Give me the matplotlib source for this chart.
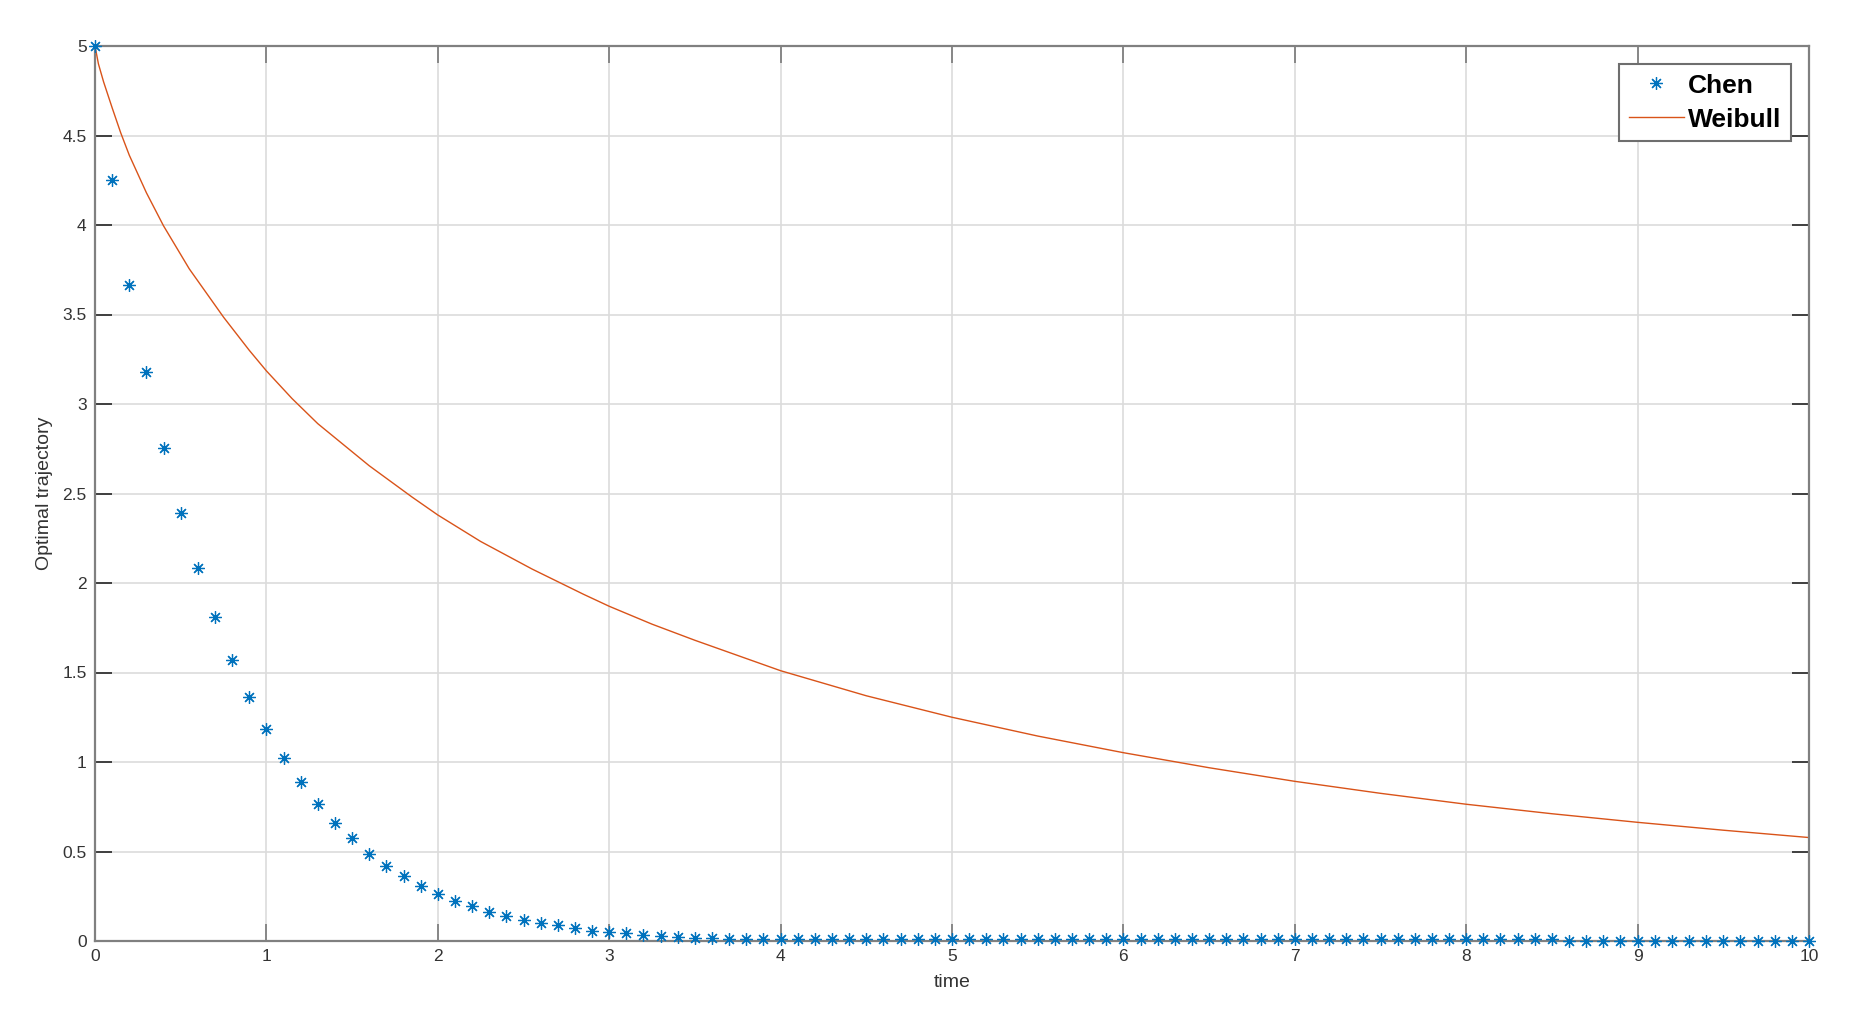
import matplotlib
matplotlib.use("Agg")
import matplotlib.pyplot as plt
import numpy as np

plt.rcParams['font.family'] = ['Liberation Sans', 'DejaVu Sans']

# ---- data ----
chen_t = np.round(np.arange(0, 10.001, 0.1), 1)
chen_y = [
    5.000, 4.250, 3.665, 3.180, 2.755, 2.390, 2.083, 1.812, 1.570, 1.361,
    1.184, 1.021, 0.886, 0.767, 0.660, 0.574, 0.488, 0.419, 0.363, 0.309,
    0.263, 0.223, 0.195, 0.164, 0.141, 0.117, 0.102, 0.088, 0.071, 0.058,
    0.050, 0.043, 0.035, 0.026, 0.024, 0.019, 0.017, 0.012, 0.011, 0.010,
    0.010, 0.012, 0.012, 0.012, 0.012, 0.012, 0.012, 0.012, 0.012, 0.012,
    0.012, 0.012, 0.012, 0.012, 0.012, 0.012, 0.012, 0.012, 0.012, 0.012,
    0.012, 0.012, 0.012, 0.012, 0.012, 0.012, 0.012, 0.012, 0.012, 0.012,
    0.012, 0.012, 0.012, 0.012, 0.012, 0.012, 0.012, 0.012, 0.012, 0.012,
    0.012, 0.012, 0.012, 0.012, 0.012, 0.012, 0.002, 0.002, 0.002, 0.002,
    0.002, 0.002, 0.002, 0.002, 0.002, 0.002, 0.002, 0.002, 0.002, 0.002,
    0.002,
]

weib_t = [0.0, 0.02, 0.05, 0.1, 0.15, 0.2, 0.3, 0.4, 0.55, 0.75, 0.9, 1.0,
          1.15, 1.3, 1.6, 1.85, 2.0, 2.25, 2.55, 2.85, 3.0, 3.25, 3.5, 4.0,
          4.5, 5.0, 5.5, 6.0, 6.5, 7.0, 7.5, 8.0, 8.5, 9.0, 9.5, 10.0]
weib_y = [5.000, 4.900, 4.800, 4.655, 4.515, 4.390, 4.180, 3.995, 3.755,
          3.485, 3.300, 3.185, 3.030, 2.890, 2.655, 2.480, 2.380, 2.232,
          2.078, 1.937, 1.870, 1.770, 1.680, 1.510, 1.370, 1.250, 1.145,
          1.052, 0.968, 0.892, 0.825, 0.764, 0.711, 0.663, 0.619, 0.578]

xticks = list(range(0, 11))
yticks = [0, 0.5, 1, 1.5, 2, 2.5, 3, 3.5, 4, 4.5, 5]
ytick_labels = ['0', '0.5', '1', '1.5', '2', '2.5', '3', '3.5', '4', '4.5', '5']

# ---- figure ----
W, H = 1871, 1030
fig = plt.figure(figsize=(W / 100, H / 100), dpi=100)
ax = fig.add_axes([95 / W, 1 - 941 / H, (1809 - 95) / W, (941 - 46) / H])

ax.plot(chen_t, chen_y, linestyle='none', marker=(8, 2, 0), markersize=9,
        markeredgewidth=0.9, color='#0072BD', label='Chen', zorder=3,
        clip_on=False)
ax.plot(weib_t, weib_y, '-', color='#D95319', linewidth=1.0, label='Weibull',
        zorder=2)

ax.set_xlim(0, 10)
ax.set_ylim(0, 5)
ax.set_xticks(xticks)
ax.set_yticks(yticks)
ax.set_yticklabels(ytick_labels)

ax.grid(True, color='#dcdcdc', linewidth=1.2)
ax.set_axisbelow(True)

for s in ax.spines.values():
    s.set_color('#808080')
    s.set_linewidth(1.6)

ax.tick_params(axis='both', direction='in', length=12, width=1.3,
               labelsize=12.5, labelcolor='#333333', pad=6,
               top=True, right=True)
ax.tick_params(axis='x', color='#808080')
ax.tick_params(axis='y', color='#333333')

ax.set_xlabel('time', fontsize=14, color='#333333', labelpad=7)
ax.set_ylabel('Optimal trajectory', fontsize=14, color='#333333', labelpad=7)

leg = ax.legend(loc='upper right', prop={'weight': 'bold', 'size': 19},
                frameon=True, fancybox=False, framealpha=1,
                edgecolor='#6e6e6e', borderpad=0.35, labelspacing=0.38,
                handlelength=2.1, handletextpad=0.15, borderaxespad=0.7)
leg.get_frame().set_linewidth(1.5)

fig.savefig('out.png', dpi=100)
